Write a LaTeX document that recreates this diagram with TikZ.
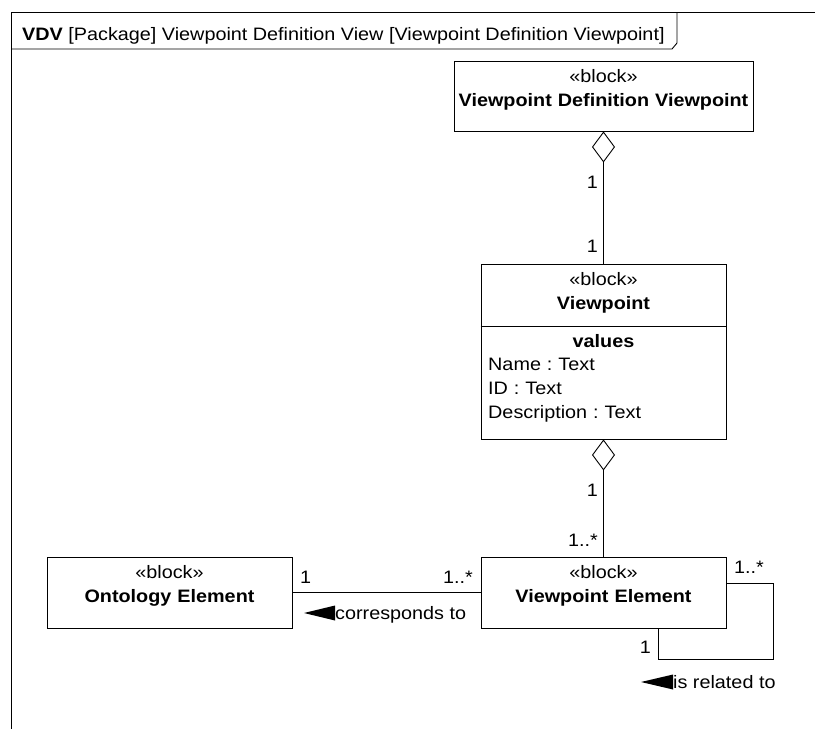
\documentclass[tikz,border=0pt]{standalone}
\usepackage{fontspec}
\setmainfont{Liberation Sans}[FakeStretch=1.1]
\usetikzlibrary{arrows.meta}
\frenchspacing

\tikzset{
  blk/.style={draw, line width=0.9pt, inner sep=0pt},
  lbl/.style={inner sep=0pt, font=\fontsize{18}{24}\selectfont},
  aggr/.style={line width=0.9pt, {Diamond[open,length=31pt,width=23pt]}-},
}

\begin{document}
\begin{tikzpicture}[x=1pt,y=1pt,yscale=-1]
  \useasboundingbox (0,0) rectangle (815,729);

  %% Frame and its heading
  \draw[line width=0.9pt] (11,729) -- (11,12) -- (815,12);
  \draw[line width=0.9pt] (11,49) -- (672,49) -- (677,43) -- (677,12);
  \node[lbl, anchor=base west] (title) at (22,40)
    {\textbf{VDV} [Package] Viewpoint Definition View [Viewpoint Definition Viewpoint]};

  %% Blocks
  \node[blk, minimum width=299, minimum height=70] (vdv) at (603.5,96) {};
  \node[lbl, text width=295, align=center, anchor=base] (vdvtxt) at (603.5,82)
    {«block»\\\textbf{Viewpoint Definition Viewpoint}};

  \node[blk, minimum width=245, minimum height=175] (vp) at (603.5,351.5) {};
  \coordinate (vpdiv) at (603.5,326);
  \draw[line width=0.9pt] (vp.west |- vpdiv) -- (vp.east |- vpdiv);
  \node[lbl, text width=240, align=center, anchor=base] (vptxt) at (603.5,285)
    {«block»\\\textbf{Viewpoint}};
  \node[lbl, anchor=base] (vals) at (603.5,347) {\textbf{values}};
  \node[lbl, text width=236, align=left, anchor=base west] (attrs) at (488,370.5)
    {Name : Text\\ID : Text\\Description : Text};

  \node[blk, minimum width=245, minimum height=71] (ve) at (603.5,592.5) {};
  \node[lbl, text width=240, align=center, anchor=base] (vetxt) at (603.5,578)
    {«block»\\\textbf{Viewpoint Element}};

  \node[blk, minimum width=245, minimum height=71] (onto) at (169.5,592.5) {};
  \node[lbl, text width=240, align=center, anchor=base] (ontotxt) at (169.5,578)
    {«block»\\\textbf{Ontology Element}};

  %% Connectors
  \draw[aggr] (vdv) -- (vp);
  \draw[aggr] (vp) -- (ve);
  \draw[line width=0.9pt] (onto) -- (ve);
  \draw[line width=0.9pt] (ve.east) ++(0,-9.5) coordinate (loopa)
    -| (773,659) coordinate (loopb) -- (658,659) coordinate (loopc)
    -- (loopc |- ve.south);

  %% Multiplicities
  \node[lbl, anchor=base east] (m1) at (598,188) {1};
  \node[lbl, anchor=base east] (m2) at (598,252) {1};
  \node[lbl, anchor=base east] (m3) at (598,496) {1};
  \node[lbl, anchor=base east] (m4) at (598,546) {1..*};
  \node[lbl, anchor=base west] (m5) at (300,583) {1};
  \node[lbl, anchor=base east] (m6) at (473,583) {1..*};
  \node[lbl, anchor=base west] (m7) at (734,573) {1..*};
  \node[lbl, anchor=base east] (m8) at (651,653) {1};

  %% Association names
  \node[lbl, anchor=base west] (corr) at (335,619) {corresponds to};
  \fill (corr.base west) ++(-31,-6) -- ++(31,-7.5) -- ++(0,15) -- cycle;
  \node[lbl, anchor=base west] (rel) at (673,688) {is related to};
  \fill (rel.base west) ++(-32,-6) -- ++(32,-7.5) -- ++(0,15) -- cycle;
\end{tikzpicture}
\end{document}
